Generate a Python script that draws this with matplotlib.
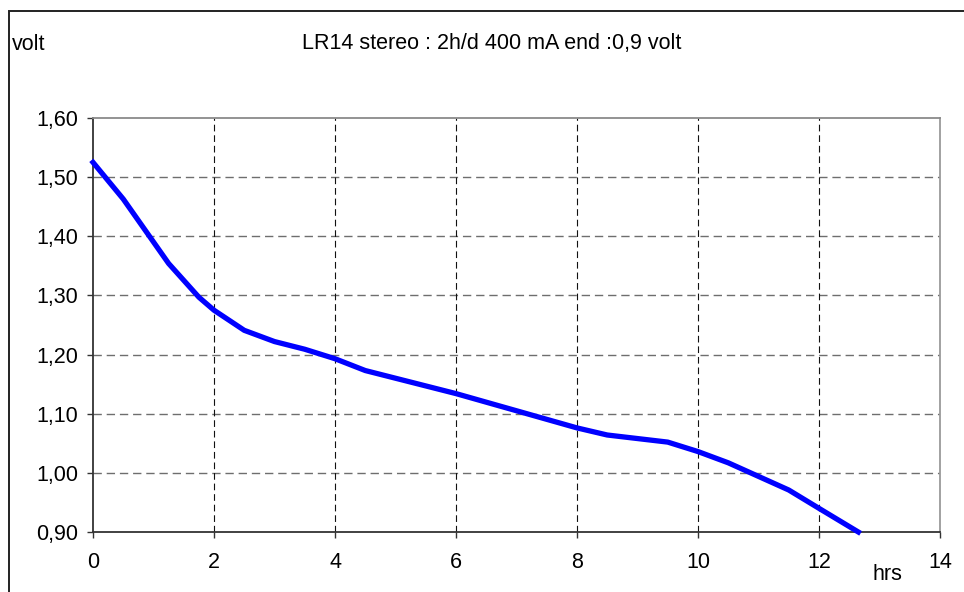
import matplotlib.pyplot as plt
from matplotlib.patches import Rectangle
from matplotlib.ticker import FuncFormatter

plt.rcParams['font.family'] = ['Liberation Sans', 'DejaVu Sans']

# discharge curve
hours = [0, 0.5, 1.25, 1.75, 2, 2.5, 3, 3.5, 4, 4.5, 6, 7, 8, 8.5, 9.5, 10, 10.5, 11.5, 12, 12.65]
volts = [1.525, 1.463, 1.354, 1.297, 1.275, 1.241, 1.222, 1.209, 1.193, 1.173,
         1.134, 1.105, 1.076, 1.064, 1.052, 1.036, 1.017, 0.971, 0.940, 0.900]

x_ticks = [0, 2, 4, 6, 8, 10, 12, 14]
y_ticks = [0.90, 1.00, 1.10, 1.20, 1.30, 1.40, 1.50, 1.60]

W, H = 964, 592
FS = 15.5
fig = plt.figure(figsize=(W / 100, H / 100), dpi=100)

# outer chart frame (runs off the right and bottom edges)
fig.patches.append(Rectangle((9 / W, -0.1), 1.2, 1 - 11 / H + 0.1, transform=fig.transFigure,
                             fill=False, edgecolor='#222222', linewidth=1.4))

ax = fig.add_axes([93 / W, 1 - 532 / H, (940 - 93) / W, (532 - 118) / H])
ax.plot(hours, volts, color='#0000ff', linewidth=3.8, solid_joinstyle='round', clip_on=False, zorder=5)

ax.set_xlim(0, 14)
ax.set_ylim(0.9, 1.6)
ax.set_xticks(x_ticks)
ax.set_yticks(y_ticks)
ax.yaxis.set_major_formatter(FuncFormatter(lambda v, p: f'{v:.2f}'.replace('.', ',')))

for y in y_ticks[1:-1]:
    ax.axhline(y, color='#6e6e6e', linewidth=1.0, dashes=(6, 3.5), zorder=1)
for x in x_ticks[1:-1]:
    ax.axvline(x, color='#111111', linewidth=0.8, dashes=(6, 3.5), zorder=1)

ax.spines['left'].set_color('#333333')
ax.spines['bottom'].set_color('#333333')
ax.spines['top'].set_color('#8a8a8a')
ax.spines['right'].set_color('#9a9a9a')
for s in ax.spines.values():
    s.set_linewidth(1.3)

ax.tick_params(axis='both', direction='out', length=4.3, width=1, color='#333333', labelsize=FS, colors='black')
ax.tick_params(axis='x', pad=10)
ax.tick_params(axis='y', pad=6.5)

fig.text(492 / W, 1 - 43 / H, 'LR14 stereo : 2h/d 400 mA end :0,9 volt', ha='center', va='center', fontsize=FS)
fig.text(12 / W, 1 - 45 / H, 'volt', ha='left', va='center', fontsize=FS)
fig.text(873 / W, 1 - 575 / H, 'hrs', ha='left', va='center', fontsize=FS)

fig.savefig('out.png', dpi=100)
